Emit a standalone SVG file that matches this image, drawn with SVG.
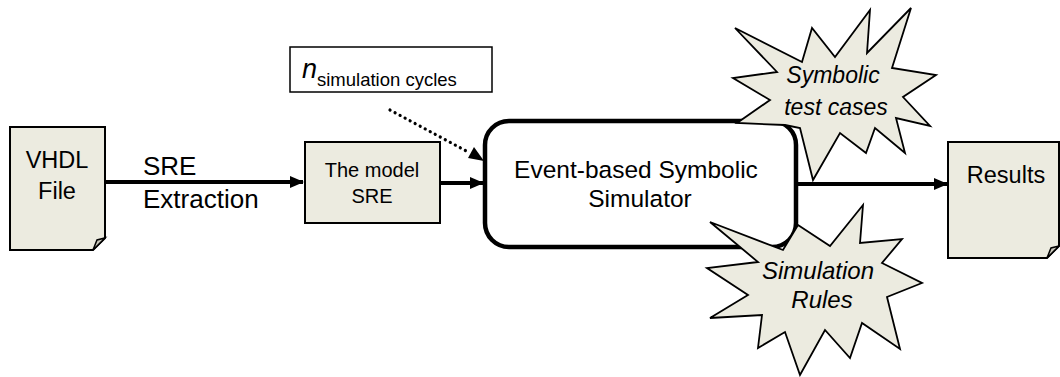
<svg xmlns="http://www.w3.org/2000/svg" width="1060" height="377" viewBox="0 0 1060 377">
  <defs>
    <style>
      text { font-family: "Liberation Sans", Arial, sans-serif; fill: #000; }
      .doc { fill: #ecebe0; stroke: #000; stroke-width: 2; stroke-linejoin: miter; }
      .fold { fill: #c9c7bb; stroke: #000; stroke-width: 1.5; }
      .box { fill: #ecebe0; stroke: #000; stroke-width: 2; }
      .sim { fill: #fff; stroke: #000; stroke-width: 4.5; }
      .star { fill: #ecebe0; stroke: #000; stroke-width: 1.8; stroke-linejoin: miter; }
      .flow { fill: none; stroke: #000; stroke-width: 4; }
      .dots { fill: none; stroke: #000; stroke-width: 3.2; stroke-linecap: round; stroke-dasharray: 0.1 5.6; }
      .it { font-style: italic; }
    </style>
    <marker id="head" markerUnits="userSpaceOnUse" markerWidth="14" markerHeight="12" refX="13" refY="6" orient="auto">
      <path d="M0,0 L14,6 L0,12 Z" fill="#000"/>
    </marker>
  </defs>

  <!-- connectors -->
  <g id="connectors">
    <path class="flow" d="M105,182 L303,182" marker-end="url(#head)"/>
    <path class="flow" d="M440,183 L483,183" marker-end="url(#head)"/>
    <path class="flow" d="M797,184 L947,184" marker-end="url(#head)"/>
    <path class="dots" d="M390,110 L470,153"/>
    <path d="M484,161 L468,158 L474,147 Z" fill="#000"/>
  </g>

  <!-- source file -->
  <g id="vhdl-file">
    <path class="doc" d="M10,127 L105,127 L105,238 L93,250 L10,250 Z"/>
    <path class="fold" d="M93,250 L97,240 L105,238 Z"/>
    <text x="57" y="168" font-size="23.5" text-anchor="middle">VHDL</text>
    <text x="57" y="199" font-size="23.5" text-anchor="middle">File</text>
  </g>

  <g id="extraction-label">
    <text x="143" y="175" font-size="26">SRE</text>
    <text x="143" y="208" font-size="26">Extraction</text>
  </g>

  <!-- model -->
  <g id="model-sre">
    <rect class="box" x="305" y="142" width="135" height="81"/>
    <text x="372" y="177" font-size="20" text-anchor="middle">The model</text>
    <text x="372" y="203" font-size="20" text-anchor="middle">SRE</text>
  </g>

  <!-- cycle count -->
  <g id="cycles">
    <rect x="290" y="47" width="202" height="45" fill="#fff" stroke="#000" stroke-width="1.5"/>
    <text x="302" y="78" font-size="27" class="it">n</text>
    <text x="317" y="86" font-size="18.5">simulation cycles</text>
  </g>

  <!-- simulator -->
  <g id="simulator">
    <rect class="sim" x="485" y="121" width="311" height="126" rx="24" ry="24"/>
    <text x="636" y="178" font-size="24.5" text-anchor="middle">Event-based Symbolic</text>
    <text x="640" y="207" font-size="24.5" text-anchor="middle">Simulator</text>
  </g>

  <!-- results file -->
  <g id="results">
    <path class="doc" d="M948,142 L1059,142 L1059,246 L1047,258 L948,258 Z"/>
    <path class="fold" d="M1047,258 L1051,248 L1059,246 Z"/>
    <text x="1006" y="183" font-size="23.5" text-anchor="middle">Results</text>
  </g>

  <!-- test case burst -->
  <g id="test-cases">
    <polygon class="star" points="735,28 802,62 812,28 835,57 870,10 867,53 911,8 892,68 936,75 903,97 930,126 896,118 905,153 875,128 866,153 840,133 813,180 800,128 785,125 737,123 770,100 733,78 777,72"/>
    <text x="833" y="83" font-size="23" class="it" text-anchor="middle">Symbolic</text>
    <text x="836" y="115" font-size="23" class="it" text-anchor="middle">test cases</text>
  </g>

  <!-- rules burst -->
  <g id="simulation-rules">
    <polygon class="star" points="710,222 783,250 798,225 830,246 863,205 860,243 902,239 882,263 922,283 887,297 900,349 862,323 850,358 825,330 800,375 785,332 758,348 762,315 710,318 748,295 707,268 758,262"/>
    <text x="818" y="279" font-size="24" class="it" text-anchor="middle">Simulation</text>
    <text x="822" y="308" font-size="24" class="it" text-anchor="middle">Rules</text>
  </g>
</svg>
